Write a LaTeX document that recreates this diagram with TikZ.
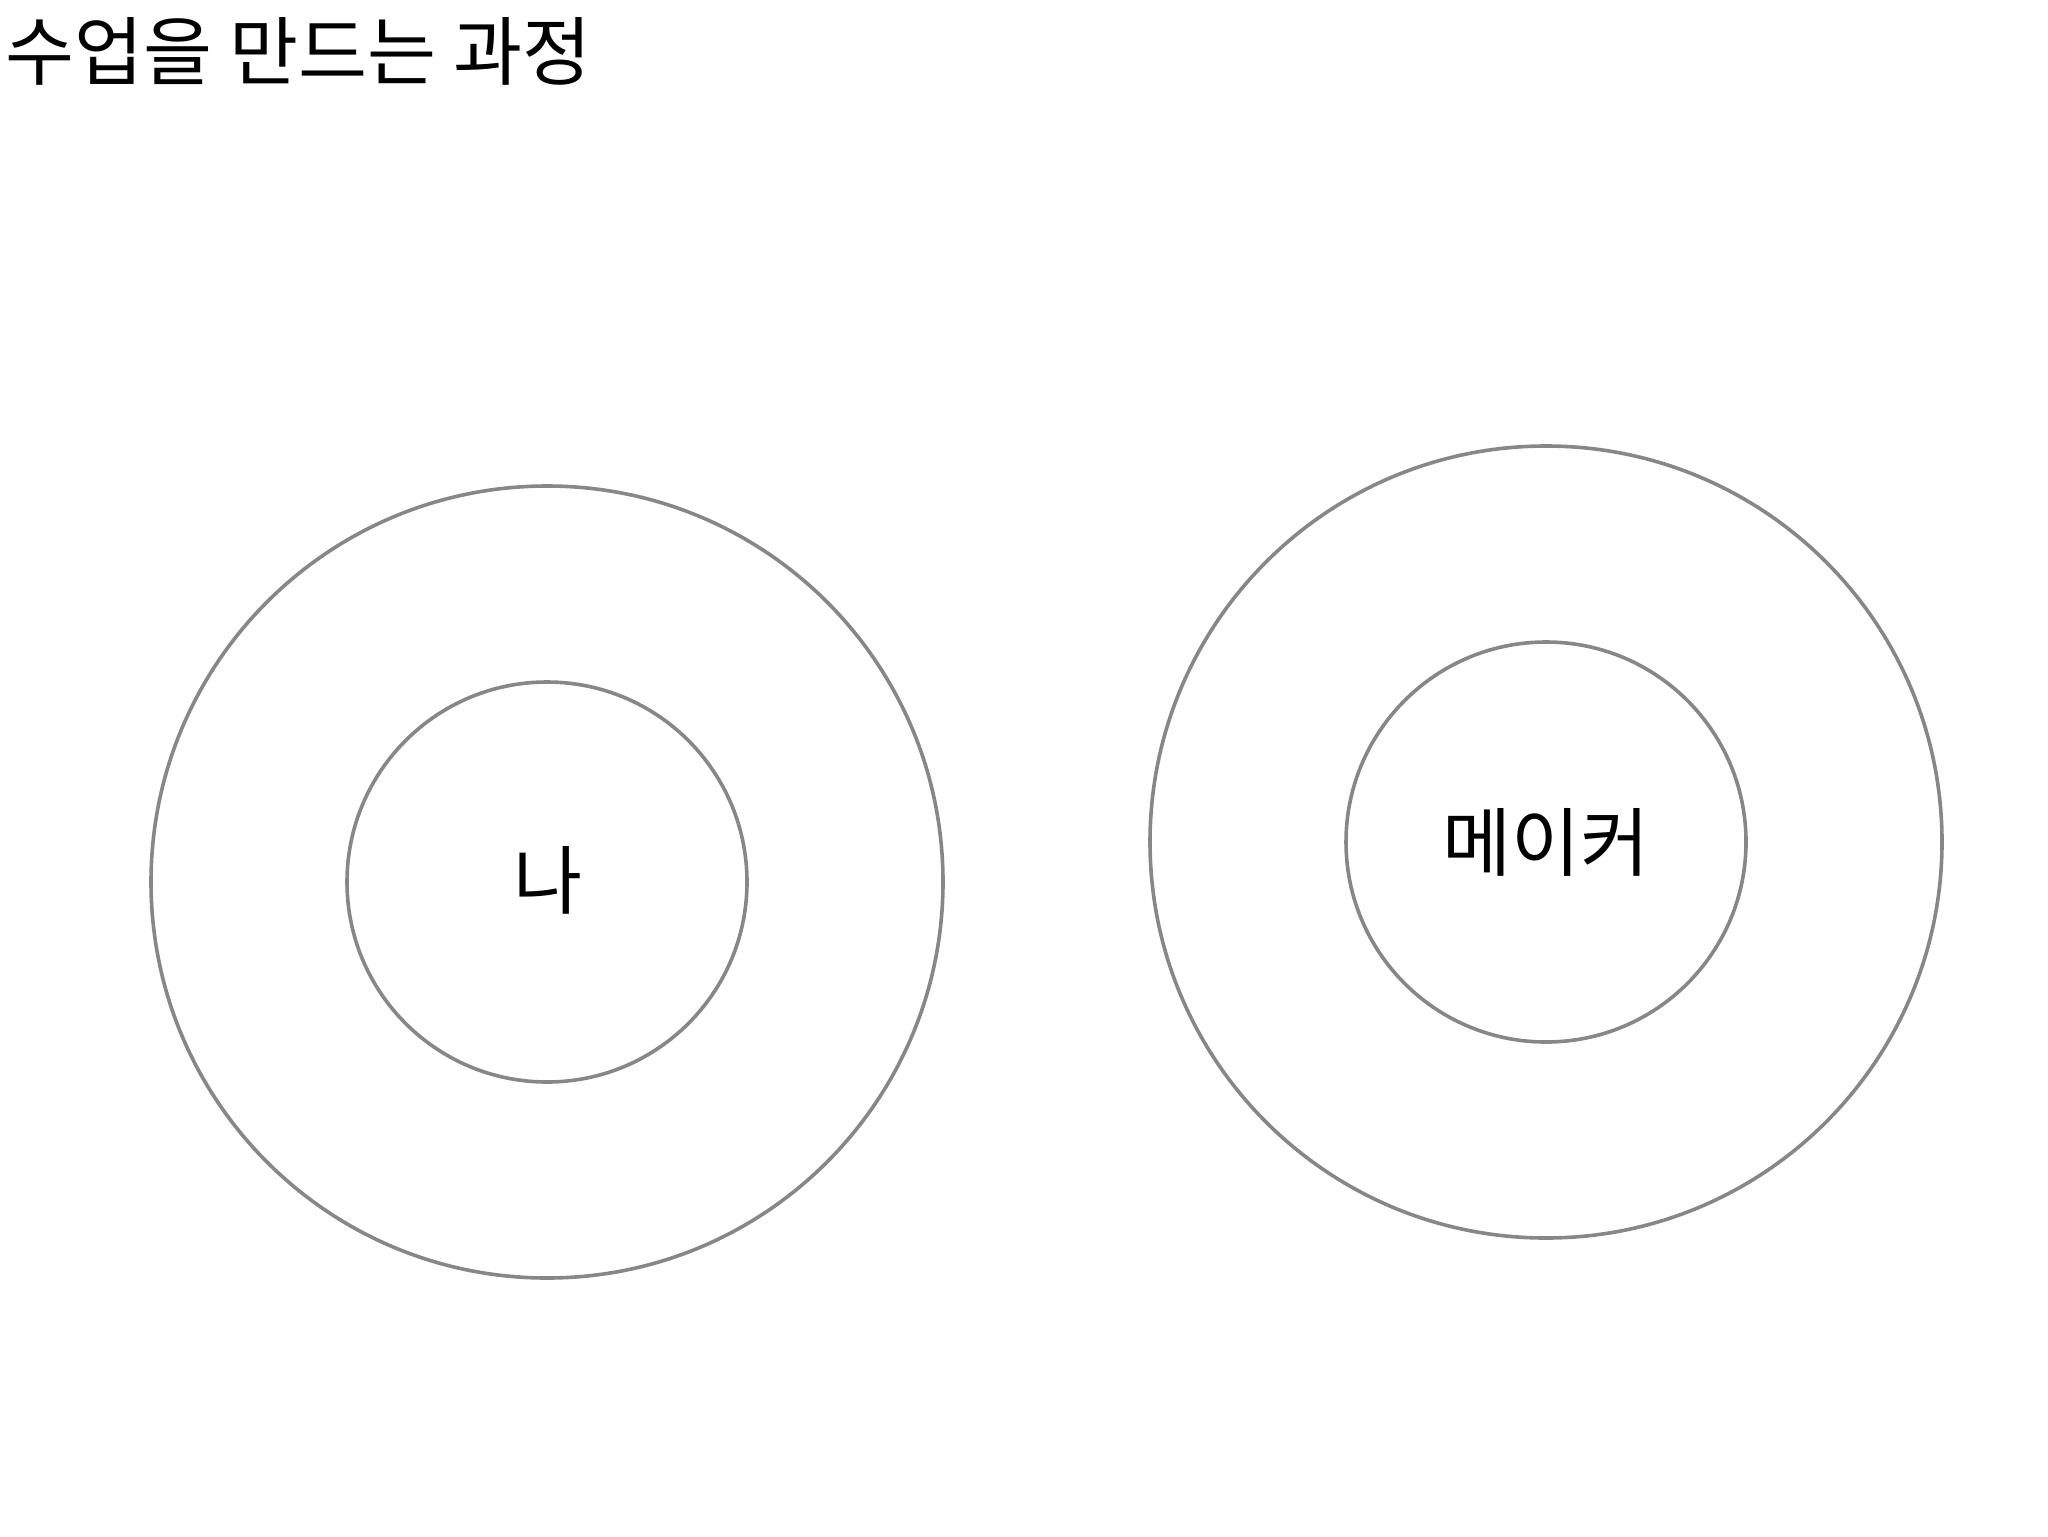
\documentclass[tikz,border=0pt]{standalone}
\usepackage{fontspec}
\setmainfont{Noto Sans CJK KR}
\newfontfamily\krfont{Noto Sans CJK KR}
\tikzset{
  ring/.style={draw=black!47, line width=1.8pt, circle, inner sep=0pt},
  lbl/.style={font=\krfont\fontsize{37.5pt}{44pt}\selectfont, inner sep=0pt, text=black},
  ttl/.style={font=\krfont\fontsize{37.5pt}{44pt}\selectfont, inner sep=0pt, text=black, anchor=west}
}
\begin{document}
\begin{tikzpicture}[x=0.5pt,y=-0.5pt]
\useasboundingbox (0,0) rectangle (2048,1536);
\node[ttl] (title) at (5,51) {수업을 만드는 과정};
\node[ring, minimum size=396pt] (louter) at (547,882) {};
\node[ring, minimum size=200pt] (linner) at (547,882) {};
\node[lbl] (me) at (548,880) {나};
\node[ring, minimum size=396pt] (router) at (1546,842) {};
\node[ring, minimum size=200pt] (rinner) at (1546,842) {};
\node[lbl] (maker) at (1546,842) {메이커};
\end{tikzpicture}
\end{document}
